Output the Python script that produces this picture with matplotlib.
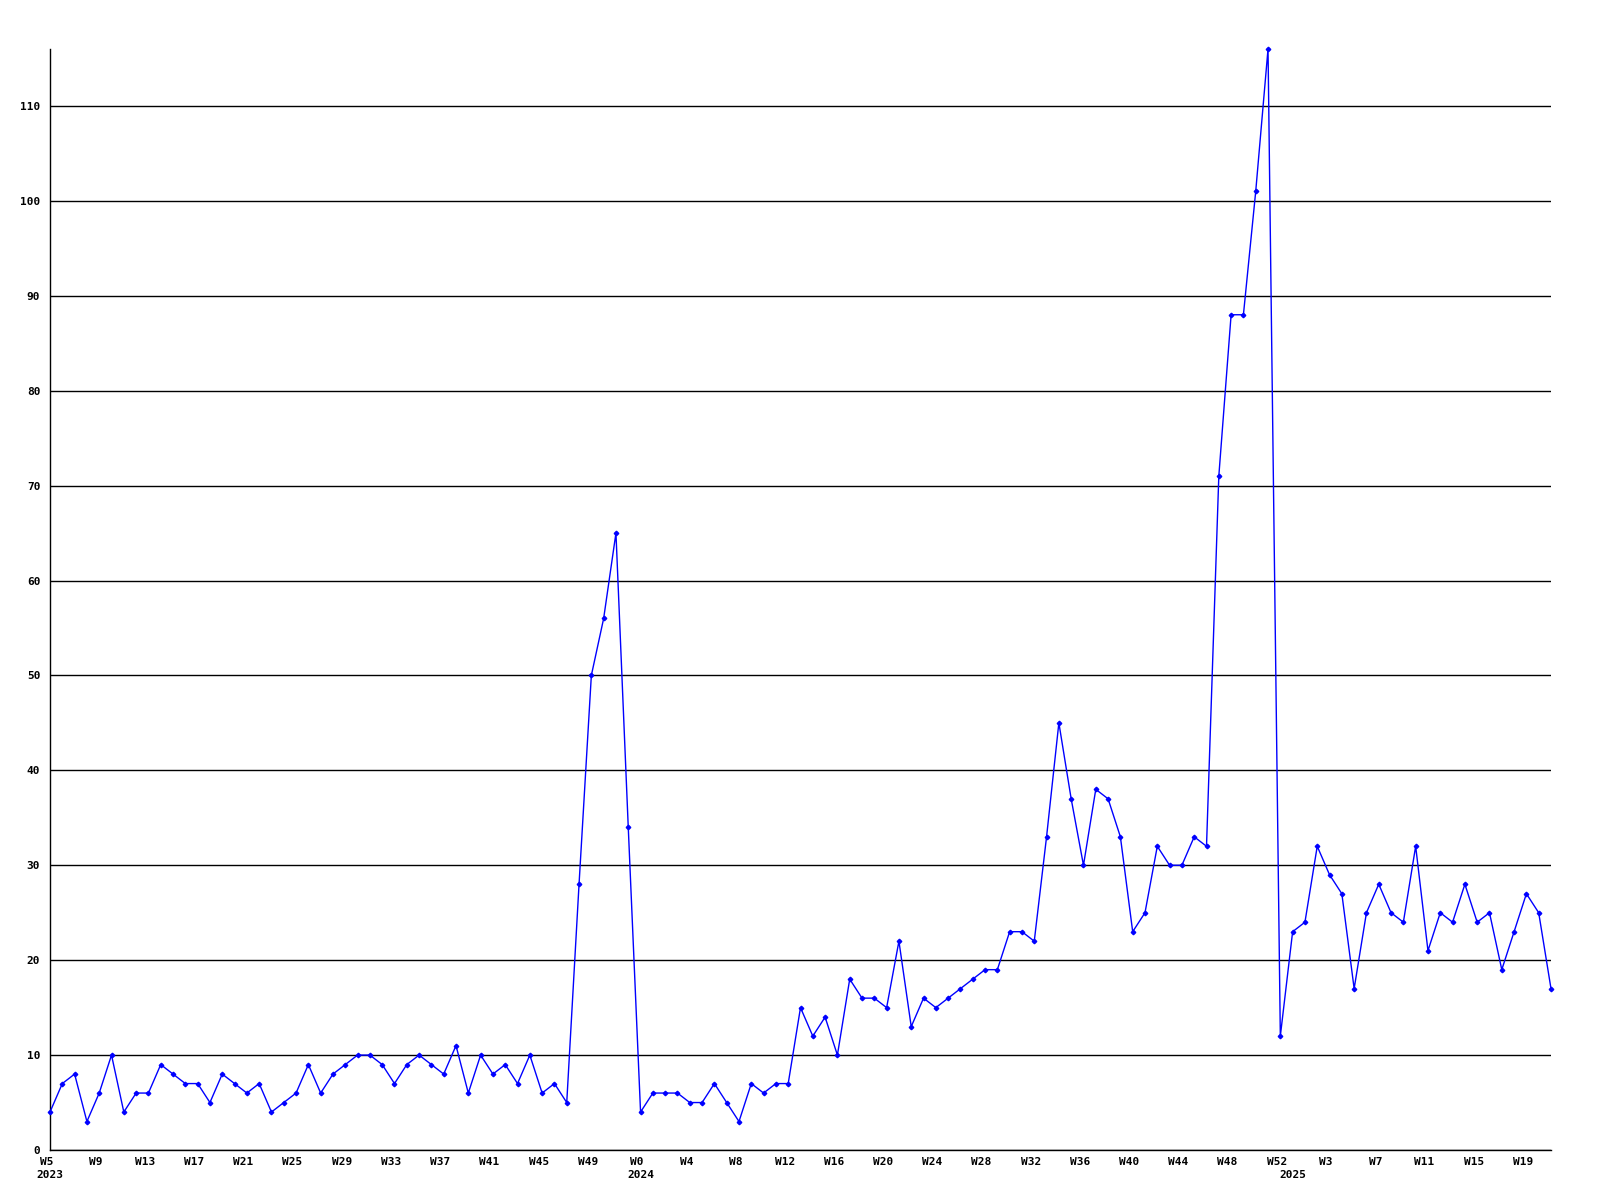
import matplotlib
matplotlib.use("Agg")
import matplotlib.pyplot as plt
from matplotlib.transforms import ScaledTranslation

# === data: weekly counts, 2023 W5 .. 2025 W21 ===
weeks_2023 = list(range(5, 53))
weeks_2024 = list(range(0, 53))
weeks_2025 = list(range(0, 22))

values_2023 = [4, 7, 8, 3, 6, 10, 4, 6, 6, 9,
               8, 7, 7, 5, 8, 7, 6, 7, 4, 5,
               6, 9, 6, 8, 9, 10, 10, 9, 7, 9,
               10, 9, 8, 11, 6, 10, 8, 9, 7, 10,
               6, 7, 5, 28, 50, 56, 65, 34]
values_2024 = [4, 6, 6, 6, 5, 5, 7, 5, 3, 7,
               6, 7, 7, 15, 12, 14, 10, 18, 16, 16,
               15, 22, 13, 16, 15, 16, 17, 18, 19, 19,
               23, 23, 22, 33, 45, 37, 30, 38, 37, 33,
               23, 25, 32, 30, 30, 33, 32, 71, 88, 88,
               101, 116, 12]
values_2025 = [23, 24, 32, 29, 27, 17, 25, 28, 25, 24,
               32, 21, 25, 24, 28, 24, 25, 19, 23, 27,
               25, 17]

years = ["2023", "2024", "2025"]
y_ticks = [0, 10, 20, 30, 40, 50, 60, 70, 80, 90, 100, 110]

# === build series ===
weeks = weeks_2023 + weeks_2024 + weeks_2025
values = values_2023 + values_2024 + values_2025
x = list(range(len(values)))
year_starts = [0, len(weeks_2023), len(weeks_2023) + len(weeks_2024)]

# === plot ===
plt.rcParams['font.family'] = ['DejaVu Sans Mono']
fig = plt.figure(figsize=(16, 12), dpi=100)
ax = fig.add_axes([50 / 1600, 1 - 1150 / 1200, 1501 / 1600, 1101 / 1200])

ax.plot(x, values, color='#0000ff', lw=1, marker='D', ms=2.3, zorder=3, clip_on=False)

ax.set_xlim(0, len(values) - 1)
ax.set_ylim(0, max(values))

ax.set_yticks(y_ticks)
ax.set_yticklabels([str(v) for v in y_ticks], fontsize=8, fontweight='bold')
ax.yaxis.grid(True, color='black', lw=1)
ax.set_axisbelow(True)

tick_idx = x[::4]
ax.set_xticks(tick_idx)
ax.set_xticklabels([f"W{weeks[i]}" for i in tick_idx], fontsize=8, fontweight='bold')
ax.tick_params(axis='both', length=0)
ax.tick_params(axis='x', pad=5)
ax.tick_params(axis='y', pad=7)

# week labels sit a little left of their points in the original
shift = ScaledTranslation(-3.5 / 100, 0, fig.dpi_scale_trans)
for lbl in ax.get_xticklabels():
    lbl.set_transform(lbl.get_transform() + shift)

for i, yr in zip(year_starts, years):
    ax.annotate(yr, xy=(i, 0), xycoords=('data', 'axes fraction'),
                xytext=(0, -20), textcoords='offset pixels',
                ha='center', va='top', fontsize=8, fontweight='bold')

for side in ['top', 'right']:
    ax.spines[side].set_visible(False)
for side in ['left', 'bottom']:
    ax.spines[side].set_color('black')
    ax.spines[side].set_linewidth(1)

fig.savefig("out.png", dpi=100, facecolor='white')
